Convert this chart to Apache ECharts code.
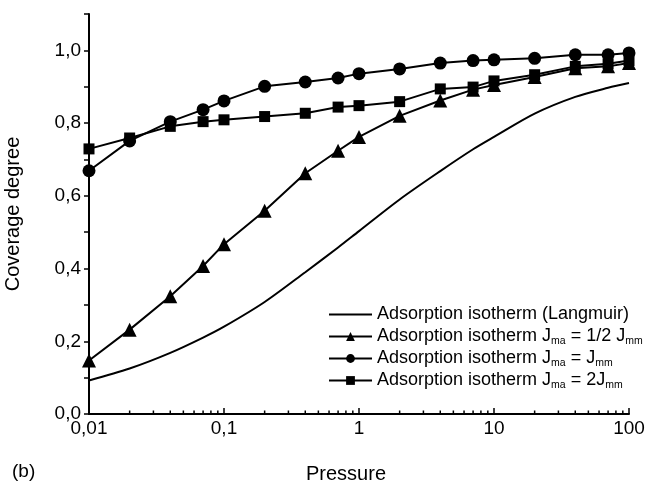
<!DOCTYPE html>
<html>
<head>
<meta charset="utf-8">
<script src="https://cdn.jsdelivr.net/npm/echarts@6/dist/echarts.min.js"></script>
<style>
  html, body { margin: 0; padding: 0; background: #fff; }
  #chart { width: 646px; height: 486px; }
</style>
</head>
<body>
<div id="chart"></div>
<script>
// pressure points shared by the marker series
var pressure = [0.01, 0.02, 0.04, 0.07, 0.1, 0.2, 0.4, 0.7, 1, 2, 4, 7, 10, 20, 40, 70, 100];
var halfJmm = [0.147, 0.232, 0.324, 0.407, 0.467, 0.559, 0.662, 0.724, 0.762, 0.820, 0.862, 0.892, 0.905, 0.927, 0.951, 0.956, 0.965];
var equalJmm = [0.669, 0.751, 0.804, 0.837, 0.861, 0.901, 0.913, 0.924, 0.936, 0.949, 0.965, 0.972, 0.974, 0.978, 0.988, 0.988, 0.993];
var doubleJmm = [0.729, 0.759, 0.791, 0.804, 0.809, 0.818, 0.827, 0.844, 0.848, 0.859, 0.894, 0.899, 0.916, 0.933, 0.956, 0.963, 0.972];

// langmuir curve
var langP = [0.01, 0.02, 0.04, 0.07, 0.1, 0.2, 0.4, 0.7, 1, 2, 4, 7, 10, 20, 40, 70, 100];
var langY = [0.092, 0.125, 0.168, 0.210, 0.240, 0.308, 0.390, 0.458, 0.503, 0.590, 0.668, 0.728, 0.762, 0.826, 0.872, 0.897, 0.910];

var xTickLabels = ['0,01', '0,1', '1', '10', '100'];
var xMinor = [0.02, 0.03, 0.04, 0.05, 0.06, 0.07, 0.08, 0.09,
              0.2, 0.3, 0.4, 0.5, 0.6, 0.7, 0.8, 0.9,
              2, 3, 4, 5, 6, 7, 8, 9,
              20, 30, 40, 50, 60, 70, 80, 90];

var names = [
  'Adsorption isotherm (Langmuir)',
  'Adsorption isotherm Jma = 1/2 Jmm',
  'Adsorption isotherm Jma = Jmm',
  'Adsorption isotherm Jma = 2Jmm'
];
var legendRich = [
  'Adsorption isotherm (Langmuir)',
  'Adsorption isotherm J{sub|ma} = 1/2 J{sub|mm}',
  'Adsorption isotherm J{sub|ma} = J{sub|mm}',
  'Adsorption isotherm J{sub|ma} = 2J{sub|mm}'
];

function zip(xs, ys) {
  return xs.map(function (x, i) { return [x, ys[i]]; });
}

var font = 'Liberation Sans, Arial, sans-serif';
var chart = echarts.init(document.getElementById('chart'));

var markerSeries = function (name, ys, symbol, size) {
  return {
    name: name,
    type: 'line',
    data: zip(pressure, ys),
    symbol: symbol,
    symbolSize: size,
    showAllSymbol: true,
    itemStyle: { color: '#000' },
    lineStyle: { color: '#000', width: 2 }
  };
};

var option = {
  animation: false,
  backgroundColor: '#fff',
  grid: { left: 89, right: 17, top: 14, bottom: 72, outerBoundsMode: 'none' },
  legend: {
    orient: 'vertical',
    left: 328,
    top: 304,
    padding: 0,
    itemWidth: 43,
    itemHeight: 11,
    itemGap: 1,
    data: [
      // langmuir has no marker, so hide the legend dot
      { name: names[0], itemStyle: { color: 'rgba(0,0,0,0)', borderWidth: 0 } },
      names[1], names[2], names[3]
    ],
    formatter: function (name) { return legendRich[names.indexOf(name)]; },
    textStyle: {
      fontFamily: font,
      fontSize: 18,
      lineHeight: 21,
      color: '#000',
      rich: {
        sub: { fontFamily: font, fontSize: 10.5, color: '#000', verticalAlign: 'bottom', lineHeight: 21 }
      }
    }
  },
  xAxis: {
    type: 'log',
    logBase: 10,
    min: 0.01,
    max: 100,
    name: 'Pressure',
    nameLocation: 'middle',
    nameGap: 50,
    nameTextStyle: { fontFamily: font, fontSize: 20, color: '#000', padding: [0, 26, 0, 0] },
    axisLine: { lineStyle: { color: '#000', width: 2 } },
    axisTick: { inside: true, length: 6, lineStyle: { color: '#000', width: 1.5 } },
    axisLabel: {
      fontFamily: font, fontSize: 19, color: '#000', margin: 5,
      formatter: function (v) { return xTickLabels[Math.round(Math.log10(v)) + 2]; }
    },
    splitLine: { show: false }
  },
  yAxis: {
    type: 'value',
    min: 0,
    max: 1.1,
    interval: 0.1,
    name: 'Coverage degree',
    nameLocation: 'middle',
    nameRotate: 90,
    nameGap: 56,
    nameTextStyle: { fontFamily: font, fontSize: 20, color: '#000', padding: [0, 0, 10, 0] },
    axisLine: { lineStyle: { color: '#000', width: 2 } },
    axisTick: { inside: false, length: 5, lineStyle: { color: '#000', width: 1.5 } },
    axisLabel: {
      fontFamily: font, fontSize: 19, color: '#000', margin: 8,
      formatter: function (v) {
        var k = Math.round(v * 10);
        return k % 2 === 0 && k <= 10 ? (k / 10).toFixed(1).replace('.', ',') : '';
      }
    },
    splitLine: { show: false }
  },
  graphic: [
    { type: 'text', left: 12, top: 462, style: { text: '(b)', font: '19px ' + font, fill: '#000' } }
  ],
  series: [
    {
      name: names[0],
      type: 'line',
      data: zip(langP, langY),
      smooth: 0.3,
      symbol: 'none',
      itemStyle: { color: '#000' },
      lineStyle: { color: '#000', width: 2 }
    },
    markerSeries(names[1], halfJmm, 'triangle', 14),
    markerSeries(names[2], equalJmm, 'circle', 13),
    markerSeries(names[3], doubleJmm, 'rect', 11),
    {
      // minor log ticks on the x axis
      type: 'custom',
      silent: true,
      data: xMinor.map(function (v) { return [v, 0]; }),
      renderItem: function (params, api) {
        var p = api.coord([api.value(0), 0]);
        return {
          type: 'line',
          shape: { x1: p[0], y1: p[1], x2: p[0], y2: p[1] - 3.5 },
          style: { stroke: '#000', lineWidth: 1.5 }
        };
      }
    }
  ]
};

chart.setOption(option);
</script>
</body>
</html>
